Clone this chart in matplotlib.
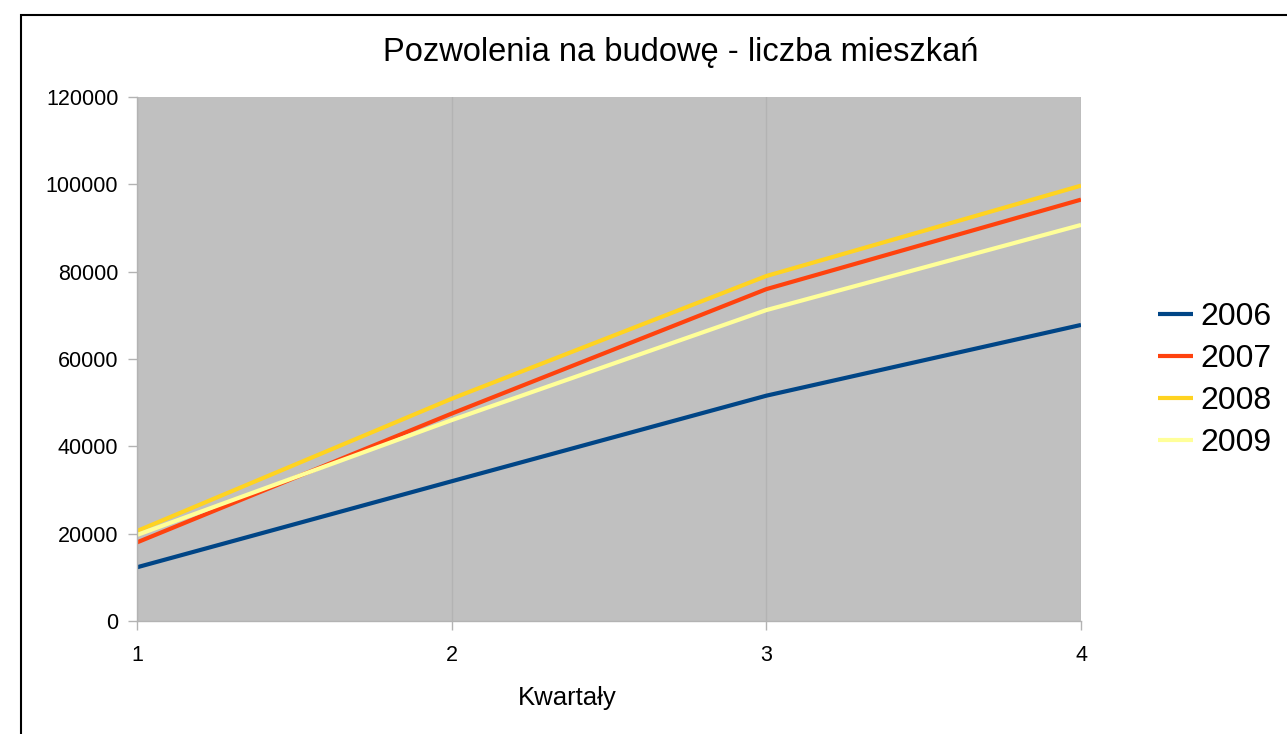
import matplotlib.pyplot as plt
from matplotlib.patches import Rectangle

# ---------------------------------------------------------------------------
# Data
# ---------------------------------------------------------------------------

quarters = [1, 2, 3, 4]
years = ["2006", "2007", "2008", "2009"]
v2006 = [12300, 32000, 51600, 67800]
v2007 = [18000, 47500, 76000, 96500]
v2008 = [20600, 50900, 79000, 99700]
v2009 = [19700, 46000, 71200, 90700]
series = [v2006, v2007, v2008, v2009]
colors = ["#004586", "#ff420e", "#ffd320", "#ffff99"]

yticks = [0, 20000, 40000, 60000, 80000, 100000, 120000]

plt.rcParams["font.family"] = ["Liberation Sans", "DejaVu Sans"]

W, H = 1287, 734
fig = plt.figure(figsize=(W / 100, H / 100), dpi=100)

# outer chart frame (runs off the right/bottom edge)
fig.patches.append(Rectangle((21 / W, -0.05), 1.2, 1 - 15 / H + 0.05,
                             transform=fig.transFigure, fill=False,
                             edgecolor="black", linewidth=1.5))

ax = fig.add_axes([137 / W, 1 - 621 / H, (1081 - 137) / W, (621 - 97) / H])
ax.set_facecolor("#c0c0c0")

for vals, col, lab in zip(series, colors, years):
    ax.plot(quarters, vals, color=col, linewidth=3, label=lab,
            solid_capstyle="butt")

ax.set_xlim(1, 4)
ax.set_ylim(0, 120000)
ax.set_xticks(quarters)
ax.set_yticks(yticks)
ax.xaxis.grid(True, color="#b3b3b3", linewidth=1)
ax.set_axisbelow(True)

for side in ["top", "right"]:
    ax.spines[side].set_visible(False)
for side in ["left", "bottom"]:
    ax.spines[side].set_color("#b3b3b3")
    ax.spines[side].set_linewidth(1)

ax.tick_params(axis="both", colors="#b3b3b3", labelcolor="black",
               labelsize=15.5, length=6.5, width=1)
ax.tick_params(axis="y", pad=7)
ax.tick_params(axis="x", pad=10.5)

# axis title sits left of centre in the original
fig.text(567 / W, 1 - 698 / H, "Kwartały", ha="center", va="center",
         fontsize=18.5)
fig.text(681 / W, 1 - 52 / H, "Pozwolenia na budowę - liczba mieszkań",
         ha="center", va="center", fontsize=23.5)

fig.legend(loc="center left", bbox_to_anchor=(1158 / W, 1 - 380 / H),
           frameon=False, fontsize=23, handlelength=1.1, handletextpad=0.22,
           labelspacing=0.37, borderpad=0, borderaxespad=0)

fig.savefig("out.png", dpi=100)
